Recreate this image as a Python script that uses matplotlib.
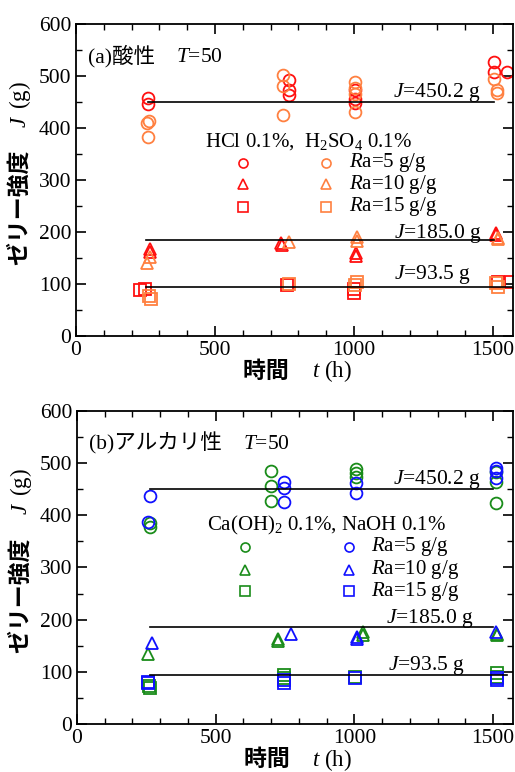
import matplotlib
matplotlib.use('Agg')
import matplotlib.pyplot as plt
from matplotlib.ticker import MultipleLocator

plt.rcParams['font.family'] = ['Liberation Serif', 'Noto Sans CJK JP']
plt.rcParams['mathtext.fontset'] = 'custom'
plt.rcParams['mathtext.rm'] = 'Liberation Serif'
plt.rcParams['mathtext.it'] = 'Liberation Serif:italic'

# --- (a) acidic: HCl (red) / H2SO4 (orange) ---
hcl_ra5_t = [260, 260, 768, 768, 768, 1003, 1003, 1003, 1504, 1504, 1551]
hcl_ra5_J = [458, 446, 492, 473, 463, 473, 456, 448, 527, 508, 508]
h2so4_ra5_t = [262, 255, 260, 743, 743, 743, 1003, 1003, 1003, 1003, 1504, 1515, 1515]
h2so4_ra5_J = [413, 410, 383, 502, 481, 425, 488, 477, 465, 431, 494, 473, 467]
hcl_ra10_t = [267, 267, 736, 740, 1006, 1006, 1511, 1511]
hcl_ra10_J = [168, 162, 179, 175, 160, 154, 198, 194]
h2so4_ra10_t = [256, 267, 765, 1010, 1010, 1518, 1518]
h2so4_ra10_J = [140, 152, 181, 190, 183, 189, 186]
hcl_ra15_t = [231, 249, 760, 1000, 1000, 1518, 1565]
hcl_ra15_J = [88, 90, 98, 83, 90, 104, 104]
h2so4_ra15_t = [264, 270, 765, 1010, 1003, 1518, 1510]
h2so4_ra15_J = [77, 71, 100, 104, 98, 95, 101]

# --- (b) alkaline: Ca(OH)2 (green) / NaOH (blue) ---
caoh_ra5_t = [262, 262, 701, 701, 701, 1007, 1007, 1007, 1511, 1511, 1511]
caoh_ra5_J = [385, 378, 485, 456, 427, 489, 481, 473, 483, 464, 423]
naoh_ra5_t = [262, 256, 745, 745, 745, 1007, 1007, 1511, 1511, 1511]
naoh_ra5_J = [438, 388, 463, 453, 425, 462, 443, 490, 485, 471]
caoh_ra10_t = [256, 723, 725, 1032, 1032, 1514, 1514]
caoh_ra10_J = [134, 160, 163, 177, 171, 171, 173]
naoh_ra10_t = [270, 773, 1011, 1011, 1511]
naoh_ra10_J = [155, 173, 166, 162, 177]
caoh_ra15_t = [263, 260, 745, 745, 1004, 1514, 1514]
caoh_ra15_J = [69, 73, 94, 88, 90, 98, 90]
naoh_ra15_t = [256, 256, 745, 745, 1004, 1514, 1514]
naoh_ra15_J = [79, 81, 85, 79, 88, 88, 85]

# mean lines
fit_J = [450.2, 185.0, 93.5]
fit_labels = ['$J$=450.2 g', '$J$=185.0 g', '$J$=93.5 g']
ra_labels = ['5', '10', '15']

RED, ORANGE = '#ff1010', '#ff8040'
GREEN, BLUE = '#1a8c1a', '#1010ff'
JP = ['Noto Sans CJK JP']
FS = 15.5

fig = plt.figure(figsize=(5.15, 7.72), dpi=100)
ax1 = fig.add_axes([0.1476, 0.5648, 0.8485, 0.4041])
ax2 = fig.add_axes([0.1495, 0.0622, 0.8466, 0.4054])


def jp_then_math(ax, x, y, jp, math, fs, weight='bold', rotation=0, ha='left', va='center'):
    # Japanese part first (CJK font), then the serif/italic part chained to its end
    t1 = ax.text(x, y, jp, transform=ax.transAxes, family=JP, fontsize=fs,
                 fontweight=weight, rotation=rotation, ha=ha, va=va)
    if rotation == 90:
        ax.annotate(math, xy=(0.5, 1), xycoords=t1, ha='center', va='bottom',
                    rotation=90, fontsize=fs)
    else:
        ax.annotate(math, xy=(1, 0.5), xycoords=t1, ha='left', va='center', fontsize=fs)


def style_axes(ax, xlab_y):
    ax.set_xlim(0, 1572)
    ax.set_ylim(0, 600)
    ax.xaxis.set_major_locator(MultipleLocator(500))
    ax.xaxis.set_minor_locator(MultipleLocator(100))
    ax.yaxis.set_major_locator(MultipleLocator(100))
    ax.yaxis.set_minor_locator(MultipleLocator(50))
    ax.tick_params(which='both', direction='in', top=True, right=True, labelsize=FS)
    ax.tick_params(which='major', length=7, width=1.2)
    ax.tick_params(which='minor', length=4, width=1.0)
    for sp in ax.spines.values():
        sp.set_linewidth(1.3)
    jp_then_math(ax, 0.382, xlab_y, '時間　', '$t$ (h)', 16.5)
    jp_then_math(ax, -0.128, 0.228, 'ゼリー強度　', r'$J\;\;$(g)', 16.5,
                 rotation=90, ha='center', va='bottom')


def pts(ax, t, J, m, c):
    ax.plot(t, J, linestyle='none', marker=m, markersize=8.5, markerfacecolor='none',
            markeredgecolor=c, markeredgewidth=1.3)


def fit_lines(ax, spans, label_pos):
    for J, (x0, x1), lab, (tx, ty) in zip(fit_J, spans, fit_labels, label_pos):
        ax.plot([x0, x1], [J, J], color='black', lw=1.2)
        ax.text(tx, ty, lab, fontsize=FS)


def legend_rows(ax, xm1, xm2, xt, ys, c1, c2):
    for m, y, lab in zip(['o', '^', 's'], ys, ra_labels):
        for xm, c in ((xm1, c1), (xm2, c2)):
            ax.plot([xm], [y], linestyle='none', marker=m, markersize=6.5,
                    markerfacecolor='none', markeredgecolor=c, markeredgewidth=1.2)
        ax.text(xt, y, '$R$a=' + lab + ' g/g', fontsize=15, va='center')


# ---- panel (a)
style_axes(ax1, -0.113)
pts(ax1, hcl_ra5_t, hcl_ra5_J, 'o', RED)
pts(ax1, h2so4_ra5_t, h2so4_ra5_J, 'o', ORANGE)
pts(ax1, hcl_ra10_t, hcl_ra10_J, '^', RED)
pts(ax1, h2so4_ra10_t, h2so4_ra10_J, '^', ORANGE)
pts(ax1, hcl_ra15_t, hcl_ra15_J, 's', RED)
pts(ax1, h2so4_ra15_t, h2so4_ra15_J, 's', ORANGE)
fit_lines(ax1, [(260, 1504), (252, 1504), (252, 1572)],
          [(1140, 460), (1143, 189), (1143, 109)])
t_a = ax1.text(0.027, 0.878, '(a)酸性　', transform=ax1.transAxes, fontsize=FS)
ax1.annotate('$T$=50', xy=(1, 0), xycoords=t_a, ha='left', va='bottom', fontsize=FS)
ax1.text(465, 364, 'HCl 0.1%,  H$_2$SO$_4$ 0.1%', fontsize=15)
legend_rows(ax1, 602, 898, 981, [333, 292, 249], RED, ORANGE)

# ---- panel (b)
style_axes(ax2, -0.115)
pts(ax2, caoh_ra5_t, caoh_ra5_J, 'o', GREEN)
pts(ax2, naoh_ra5_t, naoh_ra5_J, 'o', BLUE)
pts(ax2, caoh_ra10_t, caoh_ra10_J, '^', GREEN)
pts(ax2, naoh_ra10_t, naoh_ra10_J, '^', BLUE)
pts(ax2, caoh_ra15_t, caoh_ra15_J, 's', GREEN)
pts(ax2, naoh_ra15_t, naoh_ra15_J, 's', BLUE)
fit_lines(ax2, [(262, 1500), (262, 1500), (262, 1550)],
          [(1140, 460), (1115, 194), (1123, 104)])
t_b = ax2.text(0.027, 0.878, '(b)アルカリ性　', transform=ax2.transAxes, fontsize=FS)
ax2.annotate('$T$=50', xy=(1, 0), xycoords=t_b, ha='left', va='bottom', fontsize=FS)
ax2.text(468, 370, 'Ca(OH)$_2$ 0.1%, NaOH 0.1%', fontsize=15)
legend_rows(ax2, 604, 982, 1061, [340, 296, 254], GREEN, BLUE)

fig.savefig('out.png', dpi=100)
